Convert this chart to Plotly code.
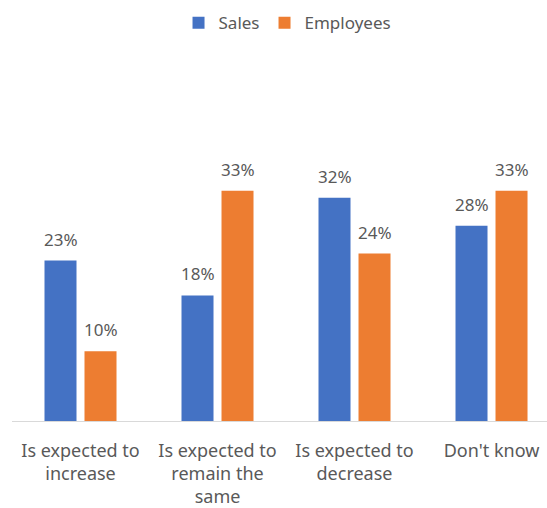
import plotly.graph_objects as go

categories = ["Is expected to<br>increase", "Is expected to<br>remain the<br>same",
              "Is expected to<br>decrease", "Don't know"]
sales = [23, 18, 32, 28]
employees = [10, 33, 24, 33]

BLUE = "#4472C4"
ORANGE = "#ED7D31"
GREY_TEXT = "#595959"
FONT = "Noto Sans"

BARGAP = 0.416
BARGROUPGAP = 0.2
series = [("Sales", sales, BLUE), ("Employees", employees, ORANGE)]

fig = go.Figure()
for name, vals, color in series:
    fig.add_trace(go.Bar(
        x=categories, y=vals, name=name,
        marker=dict(color=color, line=dict(width=0)),
        cliponaxis=False,
    ))

# value labels above each bar, centred on the grouped bar positions
slot = (1 - BARGAP) / len(series)
annotations = []
for k, (name, vals, color) in enumerate(series):
    offset = (k - (len(series) - 1) / 2) * slot
    for i, v in enumerate(vals):
        annotations.append(dict(
            x=i + offset, y=v, xref="x", yref="y", text=f"{v}%",
            showarrow=False, yanchor="bottom", yshift=8,
            font=dict(family=FONT, size=17, color=GREY_TEXT),
        ))

fig.update_layout(
    width=547, height=508,
    margin=dict(l=12, r=0, t=142, b=87),
    paper_bgcolor="white", plot_bgcolor="white",
    barmode="group", bargap=BARGAP, bargroupgap=BARGROUPGAP,
    font=dict(family=FONT, color=GREY_TEXT, size=18),
    showlegend=True,
    legend=dict(orientation="h", x=0.515, xanchor="center", y=0.99, yref="container",
                yanchor="top", font=dict(family=FONT, size=17, color=GREY_TEXT),
                itemwidth=30, traceorder="normal"),
    xaxis=dict(range=[-0.5, 3.405], showgrid=False, showline=True,
               linecolor="#D9D9D9", linewidth=1, ticks="", tickangle=0,
               ticklabelstandoff=13,
               tickfont=dict(family=FONT, size=18, color=GREY_TEXT)),
    yaxis=dict(range=[0, 40], visible=False, showgrid=False, zeroline=False),
    annotations=annotations,
)

fig.write_html("out.html")
